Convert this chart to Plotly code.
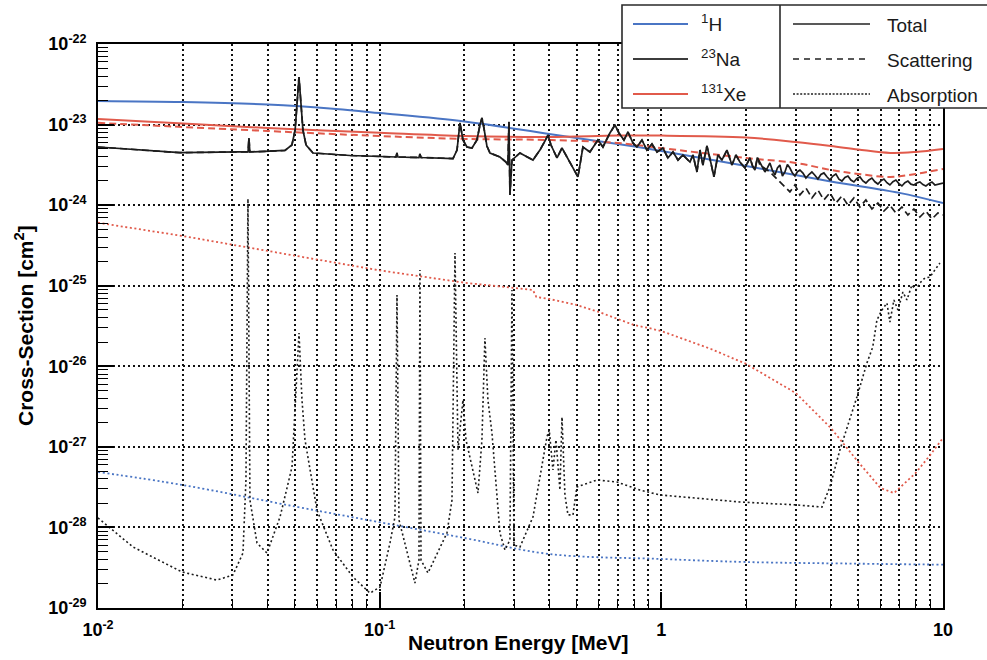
import plotly.graph_objects as go

# Neutron energies in MeV, cross-sections in barns (1 b = 1e-24 cm^2)
BARN_CM2 = 1e-24

# ---- 1H ----
h_tot_E = [0.01, 0.02, 0.04, 0.07, 0.1, 0.2, 0.4, 0.7, 1, 2, 4, 7, 10]
h_tot_b = [19.6, 19.0, 17.7, 15.6, 13.9, 10.9, 7.64, 5.75, 4.70, 3.06, 1.97, 1.42, 1.06]

h_abs_E = [0.01, 0.02, 0.05, 0.1, 0.2, 0.4, 1, 2, 5, 10]
h_abs_b = [4.88e-4, 3.36e-4, 1.82e-4, 1.16e-4, 7.4e-5, 4.68e-5, 4.06e-5, 3.72e-5, 3.55e-5, 3.45e-5]

# ---- 131Xe ----
xe_tot_E = [0.01, 0.02, 0.04, 0.1, 0.2, 0.4, 0.7, 1, 2, 3, 4, 5, 6.5, 8, 10]
xe_tot_b = [11.7, 10.3, 9.07, 7.91, 7.21, 7.01, 7.3, 7.3, 6.9, 6.08, 5.42, 4.9, 4.44, 4.57, 4.98]

xe_scat_E = [0.01, 0.04, 0.1, 0.2, 0.4, 0.7, 1, 2, 3, 4, 5, 6.5, 8, 10]
xe_scat_b = [10.5, 8.32, 7.21, 6.63, 6.43, 5.91, 5.1, 3.85, 3.34, 2.73, 2.44, 2.24, 2.44, 2.81]

xe_abs_E = [0.01, 0.02, 0.05, 0.1, 0.2, 0.3, 0.35, 0.36, 0.4, 0.5, 0.6, 0.7, 0.8, 0.9,
            1, 1.5, 2, 3, 4, 5, 6, 6.7, 7.5, 8, 9, 10]
xe_abs_b = [0.605, 0.414, 0.236, 0.155, 0.109, 0.0937, 0.0885, 0.0724, 0.0684, 0.0577,
            0.0472, 0.0387, 0.0325, 0.0299, 0.0274, 0.0164, 0.0107, 0.00466, 0.00171,
            6.49e-4, 3.08e-4, 2.67e-4, 3.8e-4, 4.74e-4, 7.9e-4, 1.29e-3]

# ---- 23Na ----
# total, resolved-resonance part (up to ~2 MeV)
na_tot_lo_E = [0.01, 0.0141, 0.01955, 0.0319, 0.0341, 0.03435, 0.0346, 0.0461, 0.0488, 0.0501,
               0.0509, 0.0517, 0.0526, 0.0534, 0.0548, 0.058, 0.0785, 0.1143, 0.1152, 0.1161,
               0.1379, 0.139, 0.1402, 0.1821, 0.1882, 0.1928, 0.1976, 0.2041, 0.2127, 0.2215,
               0.227, 0.2307, 0.2345, 0.2403, 0.2464, 0.2673, 0.2808, 0.2854, 0.2877, 0.2901,
               0.2949, 0.3148, 0.3502, 0.3707, 0.3862, 0.3958, 0.4057, 0.4262, 0.4439, 0.4586,
               0.4856, 0.5058, 0.5268, 0.5578, 0.5955, 0.6204, 0.6569, 0.6844, 0.7072, 0.7367,
               0.7612, 0.793, 0.8193, 0.8534, 0.889, 0.9262, 0.9647, 1.013, 1.055, 1.1,
               1.146, 1.193, 1.264, 1.295, 1.338, 1.371, 1.405, 1.452, 1.5, 1.537,
               1.588, 1.641, 1.71, 1.781, 1.84, 1.901, 1.981, 2.063]
na_tot_lo_b = [5.27, 4.83, 4.48, 4.57, 4.57, 6.81, 4.57, 4.77, 5.58, 8.56,
               17.5, 38.9, 17.5, 8.56, 5.58, 4.44, 4.13, 3.96, 4.44, 3.96,
               3.90, 4.31, 3.90, 3.79, 4.83, 10.5, 6.43, 5.27, 5.12, 6.43,
               9.88, 12.1, 9.07, 5.42, 4.44, 3.96, 3.43, 3.15, 10.8, 1.34,
               3.63, 4.44, 3.63, 4.83, 6.25, 7.42, 5.58, 3.85, 5.12, 4.19,
               2.97, 2.24, 5.27, 4.57, 6.43, 5.27, 7.86, 9.88, 7.86, 6.43,
               8.09, 5.91, 5.27, 6.43, 4.83, 5.74, 4.57, 5.12, 3.85, 4.57,
               3.63, 4.19, 3.43, 4.19, 2.58, 4.83, 3.15, 5.42, 3.34, 2.24,
               4.19, 3.63, 4.83, 3.15, 4.19, 3.43, 2.89, 3.85]
# total, densely fluctuating part above ~2 MeV
na_tot_hi_E = [2.106, 2.149, 2.193, 2.239, 2.286, 2.333, 2.380, 2.429, 2.479, 2.531,
               2.583, 2.636, 2.691, 2.747, 2.803, 2.861, 2.920, 2.981, 3.042, 3.105,
               3.182, 3.261, 3.342, 3.424, 3.509, 3.597, 3.686, 3.777, 3.871, 3.967,
               4.065, 4.166, 4.270, 4.377, 4.486, 4.597, 4.711, 4.827, 4.947, 5.07,
               5.196, 5.325, 5.457, 5.593, 5.731, 5.873, 6.019, 6.169, 6.322, 6.479,
               6.640, 6.804, 6.973, 7.147, 7.324, 7.505, 7.692, 7.883, 8.079, 8.279,
               8.485, 8.695, 8.911, 9.133, 9.360, 9.592, 9.794, 10]
na_tot_hi_b = [3.1, 2.73, 3.9, 3.43, 2.9, 2.58, 2.9, 3.34, 2.7, 2.37,
               2.9, 3.15, 2.3, 2.58, 3.2, 2.89, 2.5, 2.30, 2.6, 2.73,
               2.5, 2.17, 2.4, 2.58, 2.35, 2.11, 2.4, 2.51, 2.25, 2.05,
               2.3, 2.44, 2.1, 1.99, 2.2, 2.30, 2.05, 1.94, 2.15, 2.24,
               2.0, 1.88, 2.05, 2.17, 1.95, 1.83, 2.0, 2.11, 1.9, 1.78,
               1.95, 2.05, 1.85, 1.73, 1.9, 1.99, 1.82, 1.78, 1.88, 1.94,
               1.8, 1.73, 1.85, 1.94, 1.78, 1.83, 1.86, 1.88]

# elastic part above ~2.2 MeV, where it separates from the total
na_scat_hi_E = [2.239, 2.429, 2.636, 2.861, 2.981, 3.105, 3.261, 3.424, 3.597, 3.777,
                3.967, 4.166, 4.377, 4.597, 4.827, 5.07, 5.325, 5.593, 5.873, 6.169,
                6.479, 6.804, 7.147, 7.505, 7.883, 8.279, 8.695, 9.133, 9.592, 10]
na_scat_hi_b = [3.15, 2.58, 1.94, 1.46, 1.78, 1.34, 1.63, 1.23, 1.54, 1.16,
                1.42, 1.06, 1.30, 1.00, 1.23, 0.949, 1.16, 0.896, 1.06, 0.846,
                1.00, 0.799, 0.949, 0.755, 0.896, 0.712, 0.846, 0.673, 0.799, 0.755]

na_abs_E = [0.01, 0.01331, 0.01987, 0.02645, 0.03014, 0.03271, 0.03352, 0.03407, 0.03463, 0.03668,
            0.0398, 0.04429, 0.04884, 0.05046, 0.05172, 0.053, 0.05431, 0.0599, 0.06827, 0.08036,
            0.09239, 0.1003, 0.1088, 0.1133, 0.1152, 0.1171, 0.1334, 0.1379, 0.139, 0.1402,
            0.1484, 0.1733, 0.1806, 0.1851, 0.1897, 0.1943, 0.1976, 0.2025, 0.2092, 0.218,
            0.2234, 0.2307, 0.2364, 0.2423, 0.2504, 0.2673, 0.2785, 0.2901, 0.2949, 0.2998,
            0.3148, 0.3502, 0.3926, 0.4, 0.4123, 0.4226, 0.4365, 0.4439, 0.4547, 0.4661,
            0.4856, 0.5015, 0.5909, 0.6959, 0.8395, 0.9886, 1.901, 3.03, 3.716, 3.967,
            4.305, 4.947, 5.37, 5.63, 5.827, 6.07, 6.324, 6.479, 6.695, 6.918,
            7.207, 7.446, 7.757, 8.015, 8.279, 8.627, 8.987, 9.361, 9.75]
na_abs_b = [1.31e-4, 5.72e-5, 2.80e-5, 2.22e-5, 2.57e-5, 4.81e-5, 3.88e-4, 1.19, 2.19e-4, 6.41e-5,
            4.81e-5, 1.35e-4, 5.62e-4, 6.21e-3, 0.0259, 3.81e-3, 1.22e-3, 1.64e-4, 5.25e-5, 2.43e-5,
            1.53e-5, 1.82e-5, 6.41e-5, 1.35e-4, 0.0767, 1.24e-4, 2.04e-5, 3.94e-5, 0.157, 3.94e-5,
            2.72e-5, 8.53e-5, 2.19e-4, 0.255, 9.14e-4, 2.15e-3, 3.81e-3, 1.22e-3, 7.48e-4, 3.88e-4,
            2.67e-4, 1.22e-3, 0.0224, 3.81e-3, 1.49e-3, 8.53e-5, 5.25e-5, 6.98e-5, 0.0885, 6.05e-5,
            5.72e-5, 1.35e-4, 1.33e-3, 1.62e-3, 5.16e-4, 1.22e-3, 2.91e-4, 2.34e-3, 2.53e-4, 1.43e-4,
            1.43e-4, 3.18e-4, 3.88e-4, 3.66e-4, 2.91e-4, 2.53e-4, 2.07e-4, 1.90e-4, 1.79e-4, 3.18e-4,
            9.14e-4, 4.16e-3, 0.0110, 0.0173, 0.0375, 0.0500, 0.0610, 0.0354, 0.0665, 0.0500,
            0.0835, 0.0665, 0.102, 0.0885, 0.108, 0.125, 0.128, 0.157, 0.191]

na_tot_E = na_tot_lo_E + na_tot_hi_E
na_tot_b = na_tot_lo_b + na_tot_hi_b

# scattering equals the total until the inelastic channels open
na_scat_E = [e for e in na_tot_E if e < 2.2] + na_scat_hi_E
na_scat_b = [b for e, b in zip(na_tot_E, na_tot_b) if e < 2.2] + na_scat_hi_b

BLUE = "#4a75c4"
RED = "#e15a4b"
BLACK = "#1c1c1c"
FONT = "Liberation Sans"

DOT = "2px,2.6px"
DASH = "7px,4px"


def cm2(values):
    return [v * BARN_CM2 for v in values]


fig = go.Figure()

curves = [
    (h_abs_E, h_abs_b, BLUE, DOT, 1.8, "spline"),
    (xe_abs_E, xe_abs_b, RED, DOT, 1.8, "linear"),
    (na_abs_E, na_abs_b, BLACK, DOT, 1.6, "linear"),
    (h_tot_E, h_tot_b, BLUE, "solid", 2.0, "spline"),
    (xe_tot_E, xe_tot_b, RED, "solid", 2.0, "spline"),
    (xe_scat_E, xe_scat_b, RED, DASH, 2.0, "spline"),
    (na_scat_E, na_scat_b, BLACK, DASH, 1.7, "linear"),
    (na_tot_E, na_tot_b, BLACK, "solid", 1.7, "linear"),
]
for E, b, color, dash, width, shape in curves:
    fig.add_trace(go.Scatter(
        x=E, y=cm2(b), mode="lines", showlegend=False, hoverinfo="skip",
        line=dict(color=color, dash=dash, width=width, shape=shape),
    ))

# ---- axes ----
x_decades = [0.01, 0.1, 1, 10]
x_labels = ["10<sup>-2</sup>", "10<sup>-1</sup>", "1", "10"]
x_minor = [m * d for d in (0.01, 0.1, 1) for m in range(2, 10)]

y_exps = list(range(-29, -21))
y_decades = [10.0 ** p for p in y_exps]
y_labels = [f"10<sup>{p}</sup>" for p in y_exps]
y_minor = [m * d for d in y_decades[:-1] for m in range(2, 10)]

grid = dict(gridcolor="#111111", griddash="2px,3px", gridwidth=1.8)
tickfont = dict(family=FONT, size=18, color="black", weight="bold")

fig.update_xaxes(
    type="log", range=[-2, 1], tickmode="array", tickvals=x_decades, ticktext=x_labels,
    ticks="inside", ticklen=16, tickwidth=1.5, tickcolor="black",
    showline=True, linecolor="black", linewidth=1.6, mirror=True, zeroline=False,
    showgrid=True, **grid, tickfont=tickfont, ticklabelstandoff=5,
    minor=dict(tickmode="array", tickvals=x_minor, ticks="inside", ticklen=9,
               tickwidth=1.3, tickcolor="black", showgrid=True, **grid),
)
fig.update_yaxes(
    type="log", range=[-29, -22], tickmode="array", tickvals=y_decades, ticktext=y_labels,
    ticks="inside", ticklen=16, tickwidth=1.5, tickcolor="black",
    showline=True, linecolor="black", linewidth=1.6, mirror=True, zeroline=False,
    showgrid=True, **grid, tickfont=tickfont, ticklabelstandoff=6,
    minor=dict(tickmode="array", tickvals=y_minor, ticks="inside", ticklen=10,
               tickwidth=1.3, tickcolor="black", showgrid=False),
)

# ---- layout geometry (pixels) ----
W, H = 987, 660
L, R, T, B = 98, 44, 44, 52
PW, PH = W - L - R, H - T - B


def px(xp):
    return (xp - L) / PW


def py(yp):
    return (H - B - yp) / PH


annotations = [
    dict(text="Neutron Energy [MeV]", x=px(518), y=py(642), xref="paper", yref="paper",
         showarrow=False, xanchor="center", yanchor="middle",
         font=dict(family=FONT, size=21, color="black", weight="bold")),
    dict(text="Cross-Section [cm<sup>2</sup>]", x=px(24), y=py(326), xref="paper", yref="paper",
         showarrow=False, xanchor="center", yanchor="middle", textangle=-90,
         font=dict(family=FONT, size=21, color="black", weight="bold")),
]

# ---- two-column key drawn in the top-right corner ----
shapes = [
    dict(type="rect", xref="paper", yref="paper", x0=px(622), x1=px(1000), y0=py(108), y1=py(5),
         fillcolor="white", line=dict(color="#2a2a2a", width=1.6), layer="above"),
    dict(type="line", xref="paper", yref="paper", x0=px(780), x1=px(780), y0=py(108), y1=py(5),
         line=dict(color="#2a2a2a", width=1.6), layer="above"),
]
key_rows = [24, 59, 94]
isotopes = [("<sup>1</sup>H", BLUE), ("<sup>23</sup>Na", "#3c3c3c"), ("<sup>131</sup>Xe", RED)]
kinds = [("Total", "solid"), ("Scattering", "6px,5px"), ("Absorption", "2px,1.6px")]
key_font = dict(family=FONT, size=19, color="#1a1a1a")
for yrow, (label, color) in zip(key_rows, isotopes):
    shapes.append(dict(type="line", xref="paper", yref="paper", x0=px(633), x1=px(688),
                       y0=py(yrow), y1=py(yrow), line=dict(color=color, width=2), layer="above"))
    annotations.append(dict(text=label, x=px(699), y=py(yrow - 1), xref="paper", yref="paper",
                            showarrow=False, xanchor="left", yanchor="middle", font=key_font))
for yrow, (label, dash) in zip(key_rows, kinds):
    shapes.append(dict(type="line", xref="paper", yref="paper", x0=px(793), x1=px(870),
                       y0=py(yrow), y1=py(yrow), line=dict(color="#222", width=1.5, dash=dash),
                       layer="above"))
    annotations.append(dict(text=label, x=px(885), y=py(yrow + 1), xref="paper", yref="paper",
                            showarrow=False, xanchor="left", yanchor="middle", font=key_font))

fig.update_layout(
    width=W, height=H, margin=dict(l=L, r=R, t=T, b=B, autoexpand=False),
    paper_bgcolor="white", plot_bgcolor="white",
    shapes=shapes, annotations=annotations, showlegend=False,
)

fig.write_html("out.html")
